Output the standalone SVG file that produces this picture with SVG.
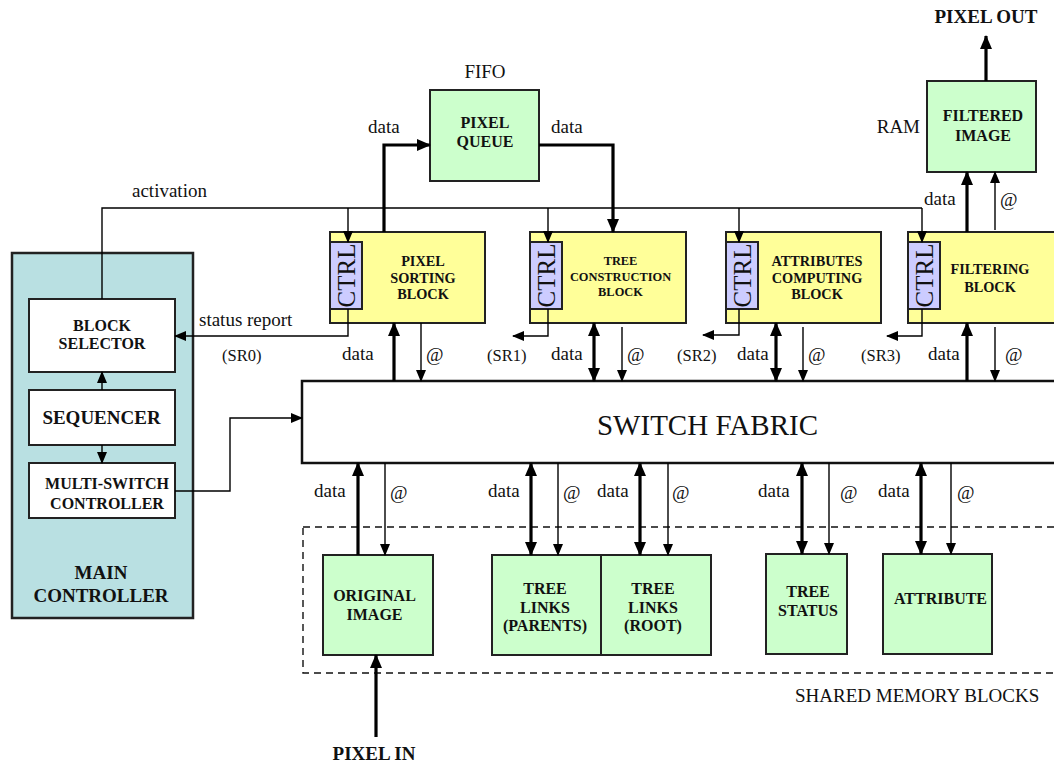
<svg xmlns="http://www.w3.org/2000/svg" width="1054" height="765" viewBox="0 0 1054 765">
<style>
text{font-family:"Liberation Serif","Times New Roman",serif;fill:#111}
.b{font-weight:bold;font-size:16px;text-anchor:middle}
.m{font-size:14.3px}
.l{font-size:19px}
.s{font-size:16.5px}
.box{stroke:#222;stroke-width:2}
.g{fill:#ccffcc}.y{fill:#ffff99}.c{fill:#ccccff}.w{fill:#fff}
.th{stroke:#000;stroke-width:3.2;fill:none}
.tn{stroke:#000;stroke-width:1.4;fill:none}
.ctrl{font-size:25px;text-anchor:middle}
</style>
<defs>
<marker id="a" markerUnits="userSpaceOnUse" markerWidth="12" markerHeight="10" refX="11" refY="5" orient="auto-start-reverse"><path d="M0,0 L12,5 L0,10 Z" fill="#000"/></marker>
<marker id="A" markerUnits="userSpaceOnUse" markerWidth="14" markerHeight="12" refX="13" refY="6" orient="auto-start-reverse"><path d="M0,0 L14,6 L0,12 Z" fill="#000"/></marker>
</defs>

<g id="main-controller">
<rect x="12" y="253" width="181" height="365" fill="#b9e0e2" stroke="#222" stroke-width="2.5"/>
<text class="b" x="101" y="579" style="font-size:19px">MAIN</text>
<text class="b" x="101" y="602" style="font-size:19px">CONTROLLER</text>
</g>
<g id="block-selector"><rect class="box w" x="29" y="299" width="146" height="73"/>
<text class="b" x="102" y="330.5">BLOCK</text><text class="b" x="102" y="349">SELECTOR</text></g>
<g id="sequencer"><rect class="box w" x="29" y="390" width="146" height="55"/>
<text class="b" x="101.5" y="424" style="font-size:19px">SEQUENCER</text></g>
<g id="multi-switch"><rect class="box w" x="29" y="463" width="146" height="55"/>
<text class="b" x="107" y="489">MULTI-SWITCH</text><text class="b" x="107" y="509">CONTROLLER</text></g>

<g id="switch-fabric"><rect x="302" y="381" width="760" height="82" fill="#fff" stroke="#111" stroke-width="2.5"/>
<text x="707.5" y="435" style="font-size:29px;text-anchor:middle">SWITCH FABRIC</text></g>

<g id="pixel-queue"><rect class="box g" x="430" y="90" width="109" height="91"/>
<text class="b" x="485" y="128">PIXEL</text><text class="b" x="485" y="147">QUEUE</text>
<text class="l" x="485" y="78" style="text-anchor:middle">FIFO</text></g>

<g id="filtered-image"><rect class="box g" x="927" y="81" width="109" height="91"/>
<text class="b" x="983" y="121">FILTERED</text><text class="b" x="983" y="140.5">IMAGE</text>
<text class="l" x="920" y="133" style="text-anchor:end">RAM</text></g>

<g id="pixel-sorting"><rect class="box y" x="330" y="232" width="155" height="91"/>
<rect class="box c" x="330" y="242" width="32" height="67" stroke-width="1.6"/>
<text class="ctrl" transform="translate(355,275.5) rotate(-90)">CTRL</text>
<text class="b m" x="423" y="265.5">PIXEL</text><text class="b m" x="423" y="282.5">SORTING</text><text class="b m" x="423" y="299">BLOCK</text></g>

<g id="tree-construction"><rect class="box y" x="530" y="232" width="156" height="91"/>
<rect class="box c" x="530" y="242" width="32" height="67" stroke-width="1.6"/>
<text class="ctrl" transform="translate(555,275.5) rotate(-90)">CTRL</text>
<text class="b" x="620.5" y="264.5" style="font-size:12.4px">TREE</text><text class="b" x="620.5" y="280.5" style="font-size:12.4px">CONSTRUCTION</text><text class="b" x="620.5" y="295.5" style="font-size:12.4px">BLOCK</text></g>

<g id="attributes-computing"><rect class="box y" x="726" y="232" width="155" height="91"/>
<rect class="box c" x="726" y="242" width="32" height="67" stroke-width="1.6"/>
<text class="ctrl" transform="translate(751,275.5) rotate(-90)">CTRL</text>
<text class="b m" x="817" y="265.5">ATTRIBUTES</text><text class="b m" x="817" y="282.5">COMPUTING</text><text class="b m" x="817" y="299">BLOCK</text></g>

<g id="filtering"><rect class="box y" x="908" y="232" width="160" height="91"/>
<rect class="box c" x="908" y="242" width="32" height="67" stroke-width="1.6"/>
<text class="ctrl" transform="translate(933,275.5) rotate(-90)">CTRL</text>
<text class="b m" x="990" y="274">FILTERING</text><text class="b m" x="990" y="291.5">BLOCK</text></g>

<g id="shared-memory">
<rect x="303" y="527" width="770" height="146" fill="none" stroke="#111" stroke-width="1.4" stroke-dasharray="7,5"/>
<text x="795" y="702" style="font-size:19px">SHARED MEMORY BLOCKS</text>
</g>
<g id="original-image"><rect class="box g" x="323" y="555" width="110" height="100"/>
<text class="b" x="374.5" y="601">ORIGINAL</text><text class="b" x="374.5" y="619.5">IMAGE</text></g>
<g id="tree-links-parents"><rect class="box g" x="492" y="555" width="109" height="100"/>
<text class="b" x="545" y="593.5">TREE</text><text class="b" x="545" y="612.5">LINKS</text><text class="b" x="545" y="631">(PARENTS)</text></g>
<g id="tree-links-root"><rect class="box g" x="601" y="555" width="110" height="100"/>
<text class="b" x="653" y="593.5">TREE</text><text class="b" x="653" y="612.5">LINKS</text><text class="b" x="653" y="631">(ROOT)</text></g>
<g id="tree-status"><rect class="box g" x="766" y="554" width="81" height="100"/>
<text class="b" x="808" y="597">TREE</text><text class="b" x="808" y="616">STATUS</text></g>
<g id="attribute"><rect class="box g" x="883" y="554" width="109" height="100"/>
<text class="b" x="940.5" y="604">ATTRIBUTE</text></g>

<g id="connectors">
<line class="tn" x1="102" y1="390" x2="102" y2="372" marker-end="url(#a)"/>
<line class="tn" x1="102" y1="445" x2="102" y2="463" marker-end="url(#a)"/>
<path class="tn" d="M102,299 V208 H922"/>
<line class="tn" x1="348" y1="208" x2="348" y2="242" marker-end="url(#a)"/>
<line class="tn" x1="548" y1="208" x2="548" y2="242" marker-end="url(#a)"/>
<line class="tn" x1="739" y1="208" x2="739" y2="242" marker-end="url(#a)"/>
<line class="tn" x1="922" y1="208" x2="922" y2="242" marker-end="url(#a)"/>
<path class="tn" d="M348,309 V336 H175" marker-end="url(#a)"/>
<path class="tn" d="M548,309 V336 H513" marker-end="url(#a)"/>
<path class="tn" d="M739,309 V335 H703" marker-end="url(#a)"/>
<path class="tn" d="M922,309 V336 H887" marker-end="url(#a)"/>
<path class="tn" d="M175,491 H230 V418 H302" marker-end="url(#a)"/>
<path class="th" d="M384,232 V145 H430" marker-end="url(#A)"/>
<path class="th" d="M539,145 H613 V232" marker-end="url(#A)"/>
<line class="th" x1="394" y1="381" x2="394" y2="323" marker-end="url(#A)"/>
<line class="tn" x1="421" y1="323" x2="421" y2="381" marker-end="url(#a)"/>
<line class="th" x1="594" y1="381" x2="594" y2="323" marker-start="url(#A)" marker-end="url(#A)"/>
<line class="tn" x1="622" y1="327" x2="622" y2="381" marker-end="url(#a)"/>
<line class="th" x1="776" y1="381" x2="776" y2="323" marker-start="url(#A)" marker-end="url(#A)"/>
<line class="tn" x1="803" y1="327" x2="803" y2="381" marker-end="url(#a)"/>
<line class="th" x1="967" y1="381" x2="967" y2="323" marker-end="url(#A)"/>
<line class="tn" x1="995" y1="327" x2="995" y2="381" marker-end="url(#a)"/>
<line class="th" x1="967" y1="232" x2="967" y2="172" marker-end="url(#A)"/>
<line class="tn" x1="995" y1="230" x2="995" y2="172" marker-end="url(#a)"/>
<line class="th" x1="986" y1="81" x2="986" y2="36" marker-end="url(#A)"/>
<line class="th" x1="358" y1="555" x2="358" y2="463" marker-end="url(#A)"/>
<line class="tn" x1="385" y1="463" x2="385" y2="555" marker-end="url(#a)"/>
<line class="th" x1="531" y1="463" x2="531" y2="555" marker-start="url(#A)" marker-end="url(#A)"/>
<line class="tn" x1="558" y1="463" x2="558" y2="555" marker-end="url(#a)"/>
<line class="th" x1="640" y1="463" x2="640" y2="555" marker-start="url(#A)" marker-end="url(#A)"/>
<line class="tn" x1="668" y1="463" x2="668" y2="555" marker-end="url(#a)"/>
<line class="th" x1="802" y1="463" x2="802" y2="554" marker-start="url(#A)" marker-end="url(#A)"/>
<line class="tn" x1="829" y1="463" x2="829" y2="554" marker-end="url(#a)"/>
<line class="th" x1="921" y1="463" x2="921" y2="554" marker-start="url(#A)" marker-end="url(#A)"/>
<line class="tn" x1="951" y1="463" x2="951" y2="554" marker-end="url(#a)"/>
<line class="th" x1="376" y1="737" x2="376" y2="655" marker-end="url(#A)"/>
</g>

<g id="labels">
<text class="l" x="132" y="197">activation</text>
<text class="l" x="199" y="326">status report</text>
<text class="s" x="222" y="361">(SR0)</text>
<text class="s" x="487" y="361">(SR1)</text>
<text class="s" x="677" y="361">(SR2)</text>
<text class="s" x="861" y="361">(SR3)</text>
<text class="l" x="368" y="133">data</text>
<text class="l" x="551" y="133">data</text>
<text class="l" x="342" y="360">data</text><text class="l" x="426" y="361">@</text>
<text class="l" x="551" y="360">data</text><text class="l" x="627" y="361">@</text>
<text class="l" x="737" y="360">data</text><text class="l" x="808" y="361">@</text>
<text class="l" x="928" y="360">data</text><text class="l" x="1005" y="361">@</text>
<text class="l" x="924" y="205">data</text><text class="l" x="1000" y="206">@</text>
<text class="l" x="314" y="497">data</text><text class="l" x="390" y="499">@</text>
<text class="l" x="488" y="497">data</text><text class="l" x="563" y="499">@</text>
<text class="l" x="597" y="497">data</text><text class="l" x="672" y="499">@</text>
<text class="l" x="758" y="497">data</text><text class="l" x="840" y="499">@</text>
<text class="l" x="878" y="497">data</text><text class="l" x="957" y="499">@</text>
<text class="b" x="986" y="23" style="font-size:19px">PIXEL OUT</text>
<text class="b" x="374" y="760" style="font-size:19px">PIXEL IN</text>
</g>
</svg>
